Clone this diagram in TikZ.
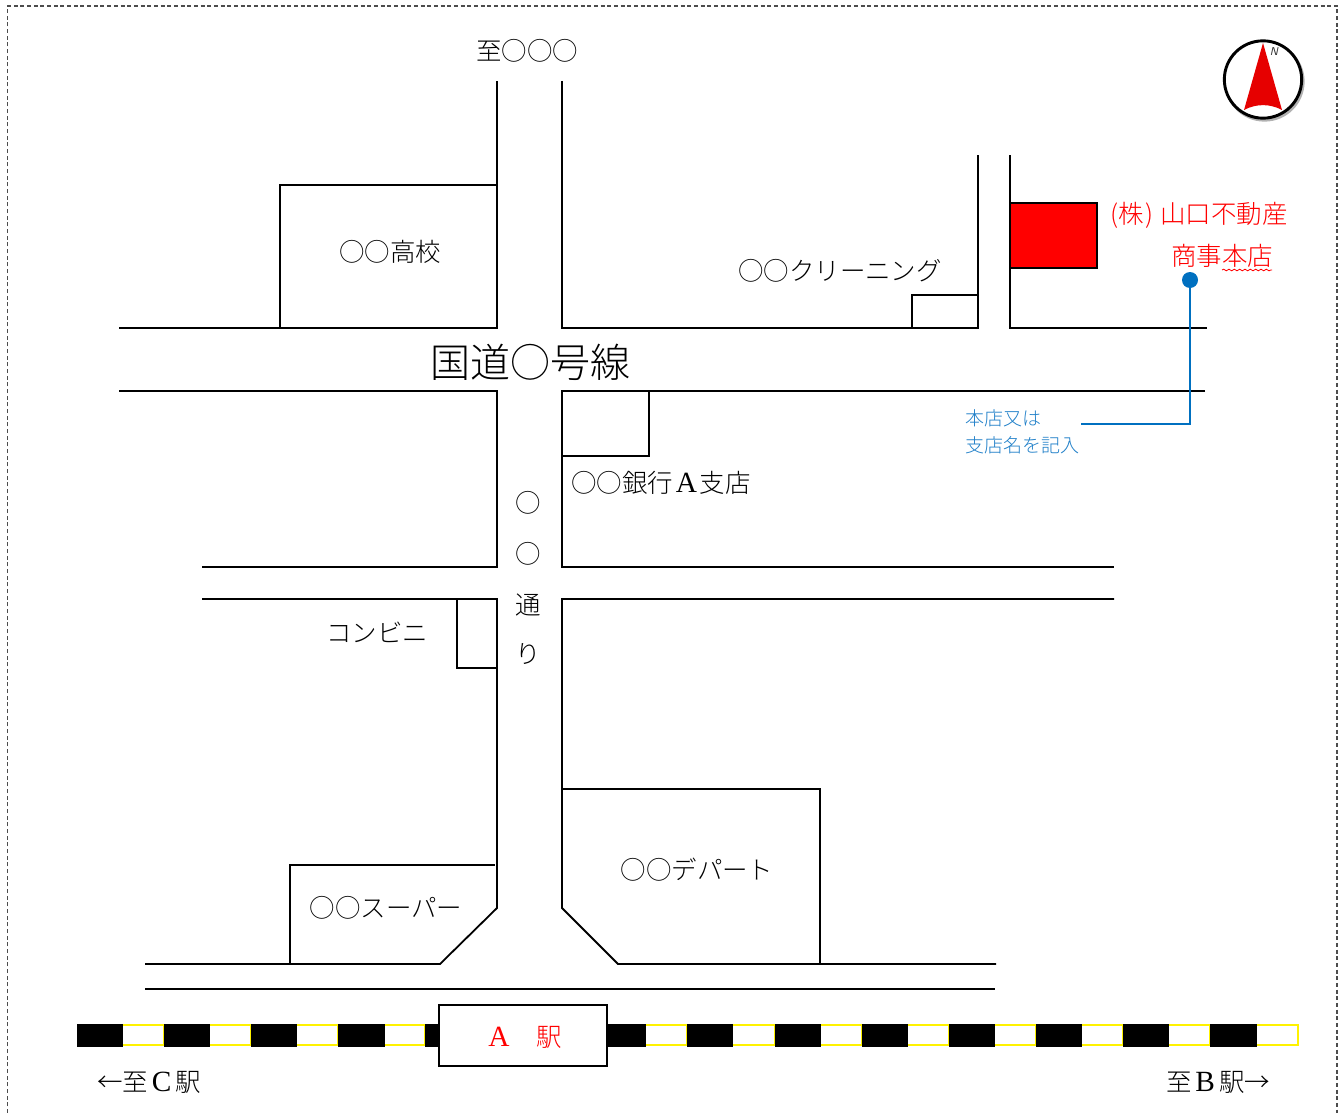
\documentclass[tikz,border=0pt]{standalone}
\usepackage{fontspec}
\usetikzlibrary{decorations.pathmorphing}
\newfontfamily\jpfont{Noto Sans CJK JP Light}
\newfontfamily\latfont{Liberation Serif}
\newcommand{\latin}[2]{\kern#1{\latfont\fontsize{22}{22}\selectfont #2}\kern#1}
\definecolor{calloutblue}{HTML}{0070C0}
\definecolor{labelblue}{HTML}{1F7FC8}
\definecolor{northred}{HTML}{E60000}
\tikzset{
  road/.style={draw=black,line width=1.35pt,line join=miter},
  label/.style={inner sep=0pt,font=\jpfont\fontsize{19.1}{19.1}\selectfont,text=black},
  redlabel/.style={label,text=red},
  bluelabel/.style={inner sep=0pt,anchor=west,font=\jpfont\fontsize{14.25}{14.25}\selectfont,text=labelblue},
  tiedark/.style={fill=black,draw=black,line width=.3pt},
  tielight/.style={fill=white,draw=yellow,line width=1.9pt},
}
\begin{document}
\begin{tikzpicture}[x=0.75pt,y=-0.75pt]
\useasboundingbox (0,0) rectangle (1343,1113);
% page border
\draw[black!70,densely dashed,line width=.9pt] (7.5,1113) -- (7.5,6) -- (1337,6) -- (1337,1113);
% roads
\draw[road] (119,328) -- (497,328) -- (497,81);
\draw[road] (562,81) -- (562,328) -- (978,328) -- (978,155);
\draw[road] (1010,155) -- (1010,328) -- (1207,328);
\draw[road] (119,391) -- (497,391) -- (497,567) -- (202,567);
\draw[road] (1205,391) -- (562,391) -- (562,567) -- (1114,567);
\draw[road] (202,599) -- (497,599) -- (497,908) -- (440,964) -- (145,964);
\draw[road] (1114,599) -- (562,599) -- (562,908) -- (618,964) -- (996,964);
\draw[road] (145,989) -- (995,989);
% buildings
\draw[road] (280,328) -- (280,185) -- (497,185);
\draw[road] (912,328) -- (912,295) -- (978,295);
\draw[road] (562,456) -- (649,456) -- (649,391);
\draw[road] (457,599) -- (457,668) -- (497,668);
\draw[road] (562,789) -- (820,789) -- (820,964);
\draw[road] (290,964) -- (290,865) -- (495,865);
\draw[road,fill=red] (1010,203) rectangle (1097,268);
% track
\foreach \a/\b in {122/164,209/251,296/338,384/425,645/687,732/775,820/862,907/949,994/1036,1081/1123,1168/1210,1256/1298}
  \draw[tielight] (\a,1025) rectangle (\b,1045);
\foreach \a/\b in {77/122,164/209,251/296,338/384,425/439,607/645,687/732,775/820,862/907,949/994,1036/1081,1123/1168,1210/1256}
  \fill[tiedark] (\a,1024) rectangle (\b,1046);
% station
\node[draw=black,line width=1.5pt,fill=white,minimum width=125.5pt,minimum height=45.5pt,inner sep=0pt] (station) at (523,1035.5) {};
\node[inner sep=0pt,text=red,font=\latfont\fontsize{22}{22}\selectfont] (stationA) at (499,1037) {A};
\node[redlabel] (stationK) at (549.5,1037) {駅};
% labels
\node[label] (north) at (527,51) {至○○○};
\node[label] (school) at (390,252) {○○高校};
\node[label] (cleaning) at (840,271) {○○クリーニング};
\node[label,font=\jpfont\fontsize{30}{30}\selectfont] (route) at (530,362) {国道○号線};
\node[label] (bank) at (661,483) {○○銀行\latin{2pt}{A}支店};
\node[label] (st1) at (528,503) {○};
\node[label] (st2) at (528,554) {○};
\node[label] (st3) at (528,605) {通};
\node[label] (st4) at (528,654) {り};
\node[label] (konbini) at (377,632) {コンビニ};
\node[label] (dept) at (697,870) {○○デパート};
\node[label] (super) at (386,908) {○○スーパー};
\node[label] (toC) at (149,1082) {←至\latin{3pt}{C}駅};
\node[label] (toB) at (1218,1082) {至\latin{3pt}{B}駅→};
\node[redlabel] (firm) at (1199,215) {(株\kern1.5pt)\kern5pt山口不動産};
\node[redlabel] (branch) at (1222,256) {商事本店};
\coordinate (waveA) at (1222,270);
\coordinate (waveB) at (1272,270);
\draw[red,line width=.6pt,decorate,decoration={snake,amplitude=.6pt,segment length=4pt}] (waveA) -- (waveB);
% callout
\node[circle,fill=calloutblue,minimum size=12pt,inner sep=0pt] (dot) at (1190,280) {};
\node[bluelabel] (note1) at (965,418) {本店又は};
\node[bluelabel] (note2) at (965,445) {支店名を記入};
\coordinate (bend) at (1190,424);
\coordinate (tail) at (1081,424);
\draw[calloutblue,line width=1.5pt] (dot.center) -- (bend) -- (tail);
% compass
\node[circle,draw=black!30,line width=2.2pt,minimum size=58pt,inner sep=0pt] (shadow) at (1264.5,81.5) {};
\node[circle,draw=black,fill=white,line width=2.2pt,minimum size=58pt,inner sep=0pt] (compass) at (1263,79.5) {};
\fill[northred] (1263,43) -- (1282,110) .. controls (1270,103.5) and (1256,103.5) .. (1244,110) -- cycle;
\node[inner sep=0pt,text=black!80,font=\sffamily\itshape\fontsize{8.5}{8.5}\selectfont] (N) at (1274,52) {N};
\end{tikzpicture}
\end{document}
